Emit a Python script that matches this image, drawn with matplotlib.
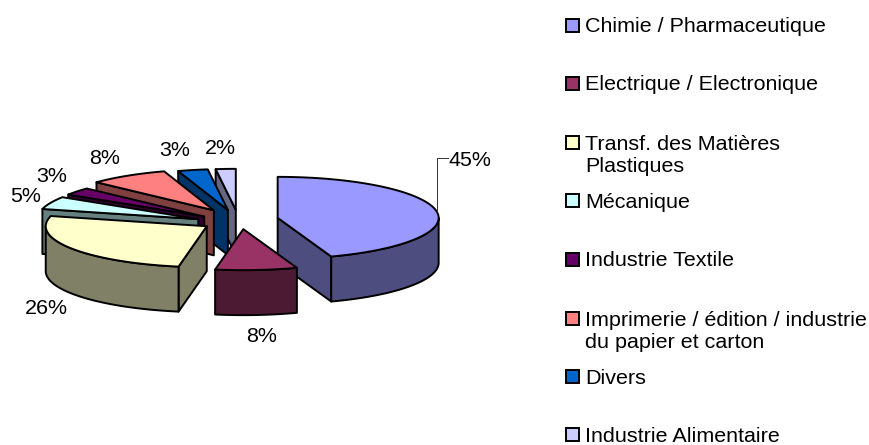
import numpy as np
import matplotlib
matplotlib.use('Agg')
import matplotlib.pyplot as plt
from matplotlib.patches import Rectangle

plt.rcParams['font.family'] = ['Liberation Sans', 'DejaVu Sans']

# Data
categories = ['Chimie / Pharmaceutique', 'Electrique / Electronique',
              'Transf. des Matières\nPlastiques', 'Mécanique', 'Industrie Textile',
              'Imprimerie / édition / industrie\ndu papier et carton', 'Divers',
              'Industrie Alimentaire']
values = [44.6, 8.2, 26.2, 5, 3, 8, 3, 2]
colors = ['#9999FF', '#993366', '#FFFFCC', '#CCFFFF', '#660066', '#FF8080', '#0066CC', '#CCCCFF']

# Label and legend positions, in pixels
label_pos = [(470, 160), (262, 337), (46, 308), (26, 197), (52, 177), (105, 159), (175, 151), (220, 149)]
legend_y = [26, 84, 143, 201, 260, 319, 377, 435]

# Pie geometry, in pixels
cx, cy = 240.2, 219.5
rx, ry = 161, 41
depth = 45
explode = 38
nudge_x = [0, 0, -1.5, -7, -6, -6, -4, -2]
nudge_y = [0, 0, 1.5, 3.5, 3, -1, 0, 0]
draw_order = [0, 7, 6, 5, 4, 3, 2, 1]
edge_w = 1.4
font_px = 21.5
font_pt = font_px * 72 / 100


def darker(col):
    rgb = matplotlib.colors.to_rgb(col)
    return tuple(c * 0.5 for c in rgb)


def rim(apex_x, apex_y, t):
    # t in degrees, clockwise from north
    rad = np.radians(t)
    return apex_x + rx * np.sin(rad), apex_y - ry * np.cos(rad)


fig = plt.figure(figsize=(8.69, 4.45), dpi=100)
ax = fig.add_axes([0, 0, 1, 1])
ax.set_xlim(0, 869)
ax.set_ylim(445, 0)
ax.axis('off')

ends = np.cumsum(values) / np.sum(values) * 360
starts = np.concatenate(([0], ends[:-1]))

for i in draw_order:
    a, b = starts[i], ends[i]
    mid = np.radians((a + b) / 2)
    ax_ = cx + explode * np.sin(mid) + nudge_x[i]
    ay_ = cy - explode * ry / rx * np.cos(mid) + nudge_y[i]
    side = darker(colors[i])
    style = dict(facecolor=side, edgecolor='black', linewidth=edge_w, joinstyle='round')

    # cut faces that look towards the viewer
    for t, normal in ((a, a - 90), (b, b + 90)):
        if np.cos(np.radians(normal)) < -1e-6:
            x1, y1 = rim(ax_, ay_, t)
            ax.fill([ax_, x1, x1, ax_], [ay_, y1, y1 + depth, ay_ + depth], **style)

    # outer wall, front half only
    lo, hi = max(a, 90), min(b, 270)
    if hi > lo:
        ts = np.linspace(lo, hi, 60)
        xs, ys = rim(ax_, ay_, ts)
        ax.fill(np.concatenate((xs, xs[::-1])), np.concatenate((ys, ys[::-1] + depth)), **style)

    # top face
    ts = np.linspace(a, b, 80)
    xs, ys = rim(ax_, ay_, ts)
    ax.fill(np.concatenate(([ax_], xs)), np.concatenate(([ay_], ys)),
            facecolor=colors[i], edgecolor='black', linewidth=edge_w, joinstyle='round')

# percentage labels
for v, (x, y) in zip(values, label_pos):
    ax.text(x, y, '%d%%' % round(v), fontsize=font_pt, ha='center', va='center', color='black')

# leader line of the 45% label
ax.plot([448, 437, 437], [158, 158, 210], color='#333333', linewidth=0.7)

# legend
for name, col, y in zip(categories, colors, legend_y):
    ax.add_patch(Rectangle((566, y - 7), 13, 13, facecolor=col, edgecolor='black', linewidth=edge_w))
    ax.text(585, y - 8.5, name, fontsize=font_pt, ha='left', va='top', linespacing=1.25, color='black')

fig.savefig('out.png', dpi=100)
